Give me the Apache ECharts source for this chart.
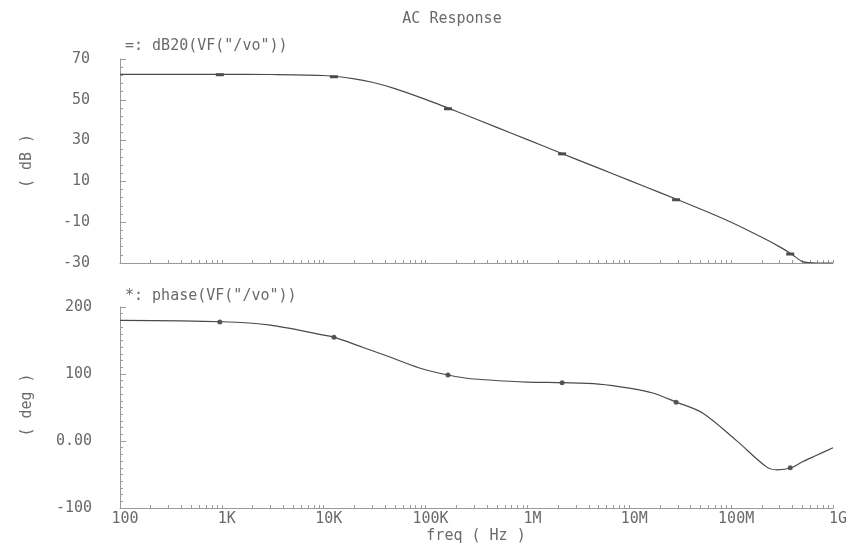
<!DOCTYPE html>
<html>
<head>
<meta charset="utf-8">
<script src="https://cdn.jsdelivr.net/npm/echarts@6/dist/echarts.min.js"></script>
<style>html,body{margin:0;padding:0;background:#fff}#c{width:851px;height:548px}</style>
</head>
<body>
<div id="c"></div>
<script>
// ---- data ----
const titleText = 'AC Response';
const dbLegend = '=: dB20(VF("/vo"))';
const phLegend = '*: phase(VF("/vo"))';
const xName = 'freq ( Hz )';
const dbName = '( dB )';
const phName = '( deg )';

const xTickLabels = ['100', '1K', '10K', '100K', '1M', '10M', '100M', '1G'];
const phTickLabels = ['-100', '0.00', '100', '200'];

const dbFreq = [100, 1e3, 3e3, 1e4, 2e4, 3e4, 5e4, 1e5, 2e5, 5e5, 1e6, 2e6, 5e6, 1e7, 2e7, 5e7, 1e8, 2e8, 3e8, 4e8, 5e8, 7e8, 1e9];
const dbVal  = [62.5, 62.5, 62.4, 61.9, 60.3, 58.6, 55.5, 50.2, 44.4, 36.5, 30.5, 24.4, 16.5, 10.5, 4.5, -3.5, -10.0, -17.4, -22.1, -25.9, -29.3, -30, -30];

const phFreq = [100, 1e3, 3e3, 1e4, 1.26e4, 2.4e4, 4e4, 8.7e4, 1.66e5, 3e5, 1e6, 2.2e6, 5e6, 1e7, 1.7e7, 2.9e7, 5.2e7, 1.13e8, 2.24e8, 2.82e8, 3.9e8, 5e8, 7e8, 1e9];
const phVal  = [180, 178, 173, 158, 155, 140, 128, 109, 98.5, 92.5, 88, 87, 85, 79, 71.6, 58, 42, 0.5, -39, -43, -40, -31, -21, -10];

const markFreq = [955, 1.26e4, 1.66e5, 2.19e6, 2.88e7, 3.8e8];
const dbMarkVal = [62.3, 61.3, 45.6, 23.5, 1.0, -25.6];
const phMarkVal = [177.6, 155, 98.5, 87, 58, -40];

// ---- build ----
const lg = v => Math.log10(v);
const pairs = (f, v) => f.map((x, i) => [lg(x), v[i]]);
const minorTicks = [];
for (let d = 2; d < 9; d++) for (let k = 1; k <= 9; k++) minorTicks.push(lg(k * Math.pow(10, d)));
minorTicks.push(9);

const FONT = '"DejaVu Sans Mono", monospace';
const FS = 15;
const TXT = '#6a6a6a';
const AX = '#9a9a9a';
const LINE = '#4a4a4a';

function xAxis(gridIndex, showLabels) {
  return {
    type: 'value', gridIndex, min: 2, max: 9, interval: 1,
    axisLine: { show: true, onZero: false, lineStyle: { color: AX, width: 1 } },
    axisTick: { show: true, inside: true, length: 3, customValues: minorTicks, lineStyle: { color: AX } },
    axisLabel: {
      show: showLabels, color: TXT, fontFamily: FONT, fontSize: FS, margin: 4,
      padding: [0, 0, 0, 10],
      formatter: v => xTickLabels[Math.round(v) - 2] || ''
    },
    splitLine: { show: false }
  };
}

const chart = echarts.init(document.getElementById('c'), null, { renderer: 'canvas' });
chart.setOption({
  backgroundColor: '#fff',
  animation: false,
  title: {
    text: titleText, left: 447, top: 7, textAlign: 'center',
    textStyle: { color: TXT, fontFamily: FONT, fontSize: FS, fontWeight: 'normal' }
  },
  grid: [
    { left: 120, right: 18, top: 59, height: 204 },
    { left: 120, right: 18, top: 307, height: 201 }
  ],
  xAxis: [xAxis(0, false), xAxis(1, true)],
  yAxis: [
    {
      type: 'value', gridIndex: 0, min: -30, max: 70, interval: 20,
      axisLine: { show: true, onZero: false, lineStyle: { color: AX } },
      axisTick: { show: true, inside: true, length: 6, lineStyle: { color: AX } },
      minorTick: { show: true, splitNumber: 5, length: 3, lineStyle: { color: AX } },
      axisLabel: { color: TXT, fontFamily: FONT, fontSize: FS, margin: 30 },
      splitLine: { show: false }
    },
    {
      type: 'value', gridIndex: 1, min: -100, max: 200, interval: 100,
      axisLine: { show: true, onZero: false, lineStyle: { color: AX } },
      axisTick: { show: true, inside: true, length: 6, lineStyle: { color: AX } },
      minorTick: { show: true, splitNumber: 10, length: 3, lineStyle: { color: AX } },
      axisLabel: {
        color: TXT, fontFamily: FONT, fontSize: FS, margin: 28,
        formatter: v => phTickLabels[Math.round((v + 100) / 100)]
      },
      splitLine: { show: false }
    }
  ],
  graphic: [
    { type: 'text', left: 125, top: 39, style: { text: dbLegend, fill: TXT, font: FS + 'px ' + FONT } },
    { type: 'text', left: 125, top: 289, style: { text: phLegend, fill: TXT, font: FS + 'px ' + FONT } },
    { type: 'text', x: 27, y: 161, rotation: Math.PI / 2,
      style: { text: dbName, fill: TXT, font: FS + 'px ' + FONT, align: 'center', verticalAlign: 'middle' } },
    { type: 'text', x: 27, y: 405, rotation: Math.PI / 2,
      style: { text: phName, fill: TXT, font: FS + 'px ' + FONT, align: 'center', verticalAlign: 'middle' } },
    { type: 'text', x: 476, y: 536,
      style: { text: xName, fill: TXT, font: FS + 'px ' + FONT, align: 'center', verticalAlign: 'middle' } }
  ],
  series: [
    {
      type: 'line', xAxisIndex: 0, yAxisIndex: 0, data: pairs(dbFreq, dbVal),
      smooth: 0.25, showSymbol: false, clip: true,
      lineStyle: { color: LINE, width: 1.2 }
    },
    {
      type: 'scatter', xAxisIndex: 0, yAxisIndex: 0, data: pairs(markFreq, dbMarkVal),
      symbol: 'rect', symbolSize: [8, 3], itemStyle: { color: '#222' }
    },
    {
      type: 'line', xAxisIndex: 1, yAxisIndex: 1, data: pairs(phFreq, phVal),
      smooth: 0.3, showSymbol: false, clip: true,
      lineStyle: { color: LINE, width: 1.2 }
    },
    {
      type: 'scatter', xAxisIndex: 1, yAxisIndex: 1, data: pairs(markFreq, phMarkVal),
      symbol: 'circle', symbolSize: 5, itemStyle: { color: '#333' }
    }
  ]
});
</script>
</body>
</html>
